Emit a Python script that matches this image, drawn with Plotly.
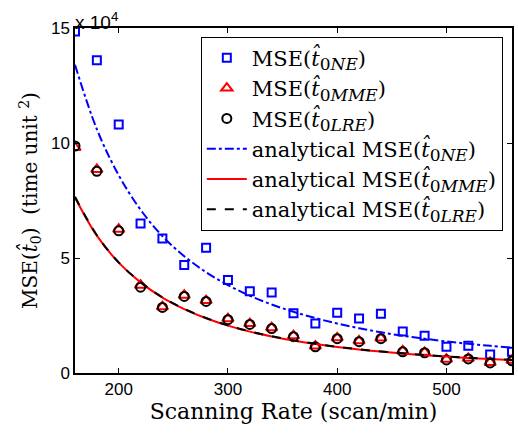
import plotly.graph_objects as go

# Scanning rates (scan/min)
rate = [160, 180, 200, 220, 240, 260, 280, 300, 320, 340, 360,
        380, 400, 420, 440, 460, 480, 500, 520, 540, 560]

# Simulated MSE values, in units of 10^4 (time unit^2)
mse_ne = [14.85, 13.6, 10.8, 6.5, 5.85, 4.7, 5.45, 4.04, 3.55, 3.5, 2.6,
          2.15, 2.62, 2.37, 2.58, 1.8, 1.62, 1.14, 1.18, 0.8, 0.92]
mse_mme = [9.8, 8.85, 6.25, 3.82, 2.88, 3.38, 3.15, 2.36, 2.15, 1.97, 1.62,
           1.17, 1.53, 1.4, 1.52, 0.96, 0.9, 0.6, 0.64, 0.46, 0.55]
mse_lre = [9.87, 8.77, 6.18, 3.73, 2.85, 3.33, 3.11, 2.32, 2.11, 1.93, 1.58,
           1.14, 1.49, 1.36, 1.49, 0.92, 0.88, 0.57, 0.61, 0.44, 0.53]

# Analytical MSE curves, in units of 10^4
ana_ne = [13.4, 10.6, 8.6, 7.1, 5.95, 5.08, 4.38, 3.82, 3.36, 2.98, 2.66,
          2.39, 2.15, 1.95, 1.77, 1.62, 1.49, 1.37, 1.27, 1.18, 1.1]
ana_mme = [7.63, 5.97, 4.8, 3.94, 3.28, 2.78, 2.38, 2.06, 1.8, 1.59, 1.41,
           1.26, 1.13, 1.02, 0.93, 0.85, 0.776, 0.714, 0.657, 0.607, 0.563]
ana_lre = [7.66, 5.99, 4.81, 3.95, 3.29, 2.79, 2.39, 2.07, 1.81, 1.6, 1.42,
           1.27, 1.14, 1.03, 0.94, 0.86, 0.782, 0.72, 0.662, 0.612, 0.568]

x_ticks = [200, 300, 400, 500]
y_ticks = [0, 5, 10, 15]

SERIF = "DejaVu Serif, Liberation Serif, serif"
SANS = "Liberation Sans, Arial, sans-serif"

def est(sub):
    return ("MSE(<i>t\u0302</i><sub><span style=\"font-size:17px\">0<i>"
            + sub + "</i></span></sub>)")

fig = go.Figure()

fig.add_trace(go.Scatter(
    x=rate, y=mse_ne, mode="markers", name=est("NE"),
    marker=dict(symbol="square-open", size=8, color="#0000ff",
                line=dict(width=2, color="#0000ff"))))
fig.add_trace(go.Scatter(
    x=rate, y=mse_mme, mode="markers", name=est("MME"),
    marker=dict(symbol="triangle-up-open", size=10, color="#ff0000",
                line=dict(width=2, color="#ff0000"))))
fig.add_trace(go.Scatter(
    x=rate, y=mse_lre, mode="markers", name=est("LRE"),
    marker=dict(symbol="circle-open", size=9, color="#000000",
                line=dict(width=2, color="#000000"))))
fig.add_trace(go.Scatter(
    x=rate, y=ana_ne, mode="lines", name="analytical " + est("NE"),
    line=dict(color="#0000ff", width=2, dash="dashdot", shape="spline")))
fig.add_trace(go.Scatter(
    x=rate, y=ana_mme, mode="lines", name="analytical " + est("MME"),
    line=dict(color="#ff0000", width=2, shape="spline")))
fig.add_trace(go.Scatter(
    x=rate, y=ana_lre, mode="lines", name="analytical " + est("LRE"),
    line=dict(color="#000000", width=2, dash="dash", shape="spline")))

axis_common = dict(
    showline=True, linecolor="black", linewidth=1.5, mirror="ticks",
    ticks="inside", ticklen=5, tickwidth=1, tickcolor="black",
    showgrid=False, zeroline=False,
    tickfont=dict(family=SANS, size=17, color="black"),
)

fig.update_layout(
    width=518, height=433,
    margin=dict(l=75, r=4, t=28, b=60),
    paper_bgcolor="white", plot_bgcolor="white",
    xaxis=dict(range=[160, 560], tickvals=x_ticks,
               title=dict(text="Scanning Rate (scan/min)",
                          font=dict(family=SERIF, size=22, color="black"),
                          standoff=1),
               **axis_common),
    yaxis=dict(range=[0, 15], tickvals=y_ticks,
               title=dict(text="MSE(<i>t\u0302</i><sub>0</sub>)  (time unit <sup>2</sup>)",
                          font=dict(family=SERIF, size=20, color="black"),
                          standoff=8),
               **axis_common),
    legend=dict(x=0.979, y=0.975, xanchor="right", yanchor="top",
                bgcolor="white", bordercolor="black", borderwidth=1,
                font=dict(family=SERIF, size=21, color="black"),
                tracegroupgap=0, itemwidth=40),
    showlegend=True,
)

fig.add_annotation(
    text="x 10<sup>4</sup>", xref="paper", yref="paper",
    x=0.0, y=1.0, xanchor="left", yanchor="bottom", showarrow=False,
    font=dict(family=SANS, size=19, color="black"), yshift=-7, xshift=-2)

fig.write_html("out.html")
